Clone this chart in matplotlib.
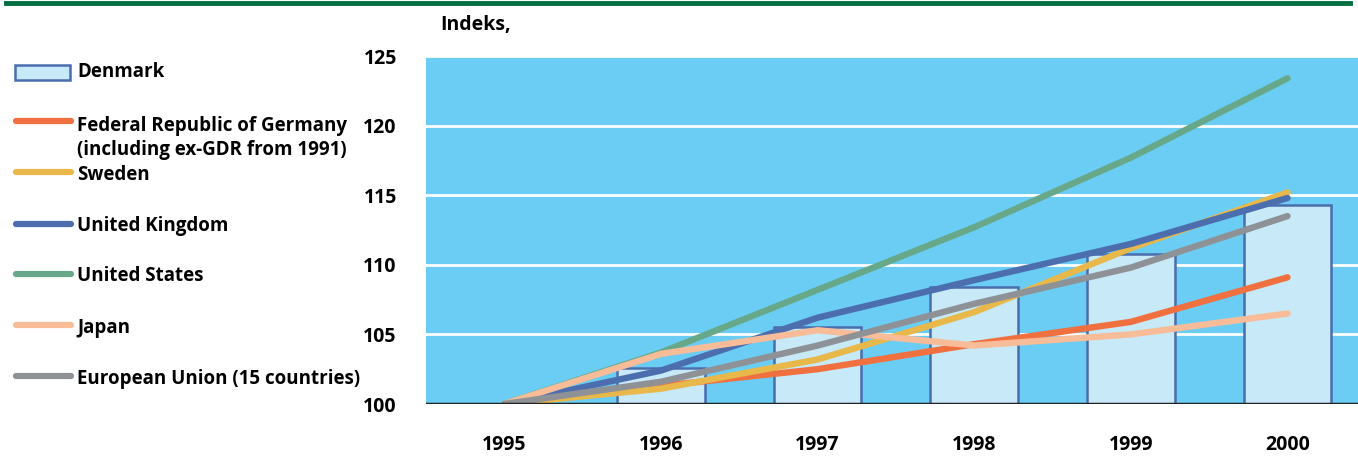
import matplotlib.pyplot as plt
from matplotlib.lines import Line2D
from matplotlib.patches import Rectangle
from matplotlib import font_manager

years = ['1995', '1996', '1997', '1998', '1999', '2000']
denmark = [100, 102.6, 105.5, 108.4, 110.8, 114.3]
germany = [100, 101.3, 102.5, 104.3, 105.9, 109.1]
sweden = [100, 101.1, 103.2, 106.6, 111.2, 115.2]
uk = [100, 102.4, 106.2, 108.9, 111.5, 114.8]
us = [100, 103.7, 108.2, 112.7, 117.7, 123.4]
japan = [100, 103.6, 105.3, 104.2, 105.0, 106.5]
eu = [100, 101.6, 104.2, 107.2, 109.8, 113.5]

labels = ['Denmark', 'Federal Republic of Germany\n(including ex-GDR from 1991)', 'Sweden',
          'United Kingdom', 'United States', 'Japan', 'European Union (15 countries)']
colors = {'Germany': '#F07040', 'Sweden': '#E8B84A', 'UK': '#4C6EAE',
          'US': '#68A88A', 'Japan': '#F9BC98', 'EU': '#8E9196'}

names = [f.name for f in font_manager.fontManager.ttflist]
fam = 'Liberation Sans Narrow' if 'Liberation Sans Narrow' in names else 'Open Sans'
plt.rcParams['font.family'] = [fam, 'DejaVu Sans']
plt.rcParams['font.weight'] = 'bold'

W, H = 1358, 459
fig = plt.figure(figsize=(W / 100, H / 100), dpi=100)
ax = fig.add_axes([426 / W, 55 / H, 932 / W, 348 / H])
ax.set_facecolor('#6BCDF4')

x = list(range(len(years)))
ax.bar(x, [d - 100 for d in denmark], bottom=100, width=0.56,
       color='#C7E9F8', edgecolor='#4A6DAE', linewidth=1.8, zorder=2)

series = [(us, 'US'), (germany, 'Germany'), (sweden, 'Sweden'), (uk, 'UK'),
          (japan, 'Japan'), (eu, 'EU')]
for vals, key in series:
    ax.plot(x, vals, color=colors[key], lw=4.6, solid_capstyle='round',
            solid_joinstyle='round', zorder=3)

ax.set_xlim(-0.5, 5.45)
ax.set_ylim(100, 125)
ax.set_yticks([100, 105, 110, 115, 120, 125])
for yv in [105, 110, 115, 120, 125]:
    ax.axhline(yv, color='white', lw=2, zorder=1)
ax.axhline(100, color='#222222', lw=2.5, zorder=4)
for s in ax.spines.values():
    s.set_visible(False)
ax.set_xticks(x)
ax.set_xticklabels(years, fontsize=14, fontweight='bold')
ax.tick_params(axis='x', length=0, pad=22)
ax.tick_params(axis='y', length=0, pad=21, labelsize=14)
for t in ax.get_yticklabels():
    t.set_fontweight('bold')

fig.text(440 / W, 1 - 25 / H, 'Indeks,', fontsize=14, fontweight='bold', va='center', ha='left')

# top green rule
fig.add_artist(Line2D([6 / W, 1350 / W], [1 - 3 / H, 1 - 3 / H], color='#006E41', lw=3.5))

# legend, drawn by hand
fig.add_artist(Rectangle((15 / W, 1 - 80 / H), 55 / W, 15 / H, facecolor='#C7E9F8',
                         edgecolor='#4A6DAE', lw=1.8, transform=fig.transFigure))
fig.text(77 / W, 1 - 72 / H, labels[0], fontsize=13.5, va='center', ha='left')
line_y = [121, 172, 224, 274, 325, 376]
text_y = [138, 175, 226, 276, 328, 379]
keys = ['Germany', 'Sweden', 'UK', 'US', 'Japan', 'EU']
for ly, ty, key, lab in zip(line_y, text_y, keys, labels[1:]):
    fig.add_artist(Line2D([16 / W, 71 / W], [1 - ly / H, 1 - ly / H], color=colors[key],
                          lw=4.5, solid_capstyle='round'))
    fig.text(77 / W, 1 - ty / H, lab, fontsize=13.5, va='center', ha='left', linespacing=1.3)

fig.savefig('out.png', dpi=100)
